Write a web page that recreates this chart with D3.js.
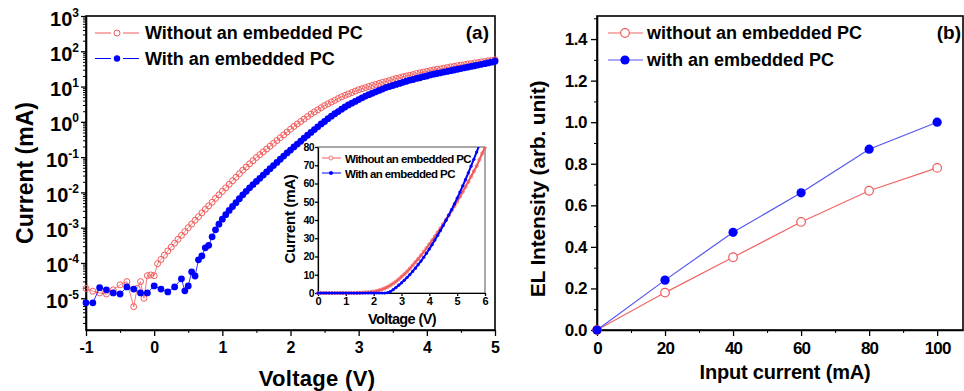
<!DOCTYPE html>
<html>
<head>
<meta charset="utf-8">
<script src="https://cdn.jsdelivr.net/npm/d3@7"></script>
<style>
  body { margin: 0; background: #fff; }
  text { font-family: "Liberation Sans", Arial, sans-serif; font-weight: bold; }
</style>
</head>
<body>
<div class="canvas"></div>
<script>
// ---- panel (a): I-V, log scale (current values stored as log10 of mA) ----
const voltsWithout = [-1.0, -0.9, -0.8, -0.7, -0.6, -0.5, -0.4, -0.3, -0.25, -0.2, -0.15, -0.1, -0.05, 0.0,
  0.05, 0.1, 0.15, 0.2, 0.25, 0.3, 0.35, 0.4, 0.45, 0.5, 0.55, 0.6, 0.65, 0.7, 0.75, 0.8, 0.85, 0.9, 0.95, 1.0,
  1.05, 1.1, 1.15, 1.2, 1.25, 1.3, 1.35, 1.4, 1.45, 1.5,
  1.55, 1.6, 1.65, 1.7, 1.75, 1.8, 1.85, 1.9, 1.95, 2.0,
  2.05, 2.1, 2.15, 2.2, 2.25, 2.3, 2.35, 2.4, 2.45, 2.5,
  2.55, 2.6, 2.65, 2.7, 2.75, 2.8, 2.85, 2.9, 2.95, 3.0,
  3.05, 3.1, 3.15, 3.2, 3.25, 3.3, 3.35, 3.4, 3.45, 3.5,
  3.55, 3.6, 3.65, 3.7, 3.75, 3.8, 3.85, 3.9, 3.95, 4.0,
  4.05, 4.1, 4.15, 4.2, 4.25, 4.3, 4.35, 4.4, 4.45, 4.5,
  4.55, 4.6, 4.65, 4.7, 4.75, 4.8, 4.85, 4.9, 4.95, 5.0];
const logWithout = [-4.72, -4.80, -4.85, -4.88, -4.76, -4.62, -4.53, -5.24, -4.72, -4.53, -5.00, -4.36, -4.34, -4.36,
  -4.02, -3.90, -3.78, -3.66, -3.55, -3.44, -3.33, -3.22, -3.11, -3.00, -2.90, -2.79, -2.69, -2.58, -2.48, -2.38, -2.28, -2.17, -2.07, -1.97,
  -1.87, -1.77, -1.67, -1.57, -1.47, -1.37, -1.28, -1.19, -1.10, -1.01,
  -0.93, -0.85, -0.77, -0.69, -0.61, -0.53, -0.45, -0.37, -0.29, -0.21,
  -0.13, -0.06, 0.01, 0.08, 0.15, 0.22, 0.28, 0.34, 0.40, 0.46,
  0.51, 0.56, 0.61, 0.66, 0.71, 0.75, 0.79, 0.83, 0.87, 0.91,
  0.94, 0.97, 1.00, 1.03, 1.06, 1.09, 1.12, 1.14, 1.17, 1.20,
  1.23, 1.25, 1.28, 1.30, 1.32, 1.34, 1.37, 1.39, 1.41, 1.43,
  1.45, 1.47, 1.49, 1.50, 1.52, 1.54, 1.56, 1.57, 1.59, 1.61,
  1.62, 1.64, 1.65, 1.67, 1.68, 1.70, 1.71, 1.73, 1.74, 1.76];

const voltsWith = [-1.0, -0.9, -0.8, -0.7, -0.6, -0.5, -0.4, -0.3, -0.2, -0.1, 0.0, 0.1, 0.2, 0.3, 0.4,
  0.45, 0.5, 0.55, 0.6, 0.65, 0.7, 0.75, 0.8, 0.85, 0.9, 0.95,
  1.0, 1.05, 1.1, 1.15, 1.2, 1.25, 1.3, 1.35, 1.4, 1.45, 1.5,
  1.55, 1.6, 1.65, 1.7, 1.75, 1.8, 1.85, 1.9, 1.95, 2.0,
  2.05, 2.1, 2.15, 2.2, 2.25, 2.3, 2.35, 2.4, 2.45, 2.5,
  2.55, 2.6, 2.65, 2.7, 2.75, 2.8, 2.85, 2.9, 2.95, 3.0,
  3.05, 3.1, 3.15, 3.2, 3.25, 3.3, 3.35, 3.4, 3.45, 3.5,
  3.55, 3.6, 3.65, 3.7, 3.75, 3.8, 3.85, 3.9, 3.95, 4.0,
  4.05, 4.1, 4.15, 4.2, 4.25, 4.3, 4.35, 4.4, 4.45, 4.5,
  4.55, 4.6, 4.65, 4.7, 4.75, 4.8, 4.85, 4.9, 4.95, 5.0];
const logWith = [-5.13, -5.13, -4.70, -4.76, -4.85, -4.88, -4.68, -4.74, -4.85, -4.85, -4.65, -4.74, -4.82, -4.68, -4.45,
  -4.79, -4.65, -4.25, -4.37, -3.91, -3.80, -3.57, -3.50, -3.26, -3.06, -2.90,
  -2.76, -2.63, -2.51, -2.40, -2.29, -2.18, -2.07, -1.97, -1.87, -1.78, -1.69,
  -1.60, -1.51, -1.42, -1.33, -1.24, -1.15, -1.06, -0.97, -0.88, -0.80,
  -0.71, -0.63, -0.55, -0.46, -0.38, -0.30, -0.22, -0.14, -0.06, 0.01,
  0.09, 0.16, 0.23, 0.29, 0.36, 0.42, 0.48, 0.53, 0.58, 0.63,
  0.68, 0.73, 0.77, 0.81, 0.85, 0.89, 0.93, 0.97, 1.00, 1.03,
  1.06, 1.09, 1.12, 1.15, 1.18, 1.20, 1.23, 1.25, 1.28, 1.30,
  1.33, 1.35, 1.37, 1.39, 1.41, 1.43, 1.45, 1.47, 1.49, 1.51,
  1.53, 1.55, 1.57, 1.59, 1.61, 1.63, 1.65, 1.67, 1.69, 1.72];

const voltTicks = [-1, 0, 1, 2, 3, 4, 5];
const currentTicks = [1e-5, 1e-4, 1e-3, 1e-2, 1e-1, 1, 10, 100, 1000];

// ---- inset: linear I-V ----
const insetVolts = [0.0, 0.1, 0.2, 0.3, 0.4, 0.5, 0.6, 0.7, 0.8, 0.9, 1.0, 1.1, 1.2, 1.3, 1.4,
  1.5, 1.6, 1.7, 1.8, 1.9, 2.0, 2.1, 2.2, 2.3, 2.4, 2.5, 2.6, 2.7, 2.8, 2.9, 3.0, 3.1, 3.2, 3.3, 3.4,
  3.5, 3.6, 3.7, 3.8, 3.9, 4.0, 4.1, 4.2, 4.3, 4.4, 4.5, 4.6, 4.7, 4.8, 4.9, 5.0, 5.1, 5.2, 5.3, 5.4,
  5.5, 5.6, 5.7, 5.8, 5.9, 6.0];
const insetWithout = [0, 0, 0, 0, 0, 0, 0, 0, 0, 0, 0, 0, 0, 0, 0,
  0.1, 0.2, 0.3, 0.4, 0.6, 0.8, 1.1, 1.5, 2.0, 2.6,
  3.3, 4.2, 5.2, 6.3, 7.5, 8.9, 10.3, 11.8, 13.4, 15.1,
  16.9, 18.7, 20.6, 22.6, 24.6, 26.7, 28.8, 31.0, 33.2, 35.5,
  37.8, 40.2, 42.6, 45.1, 47.6, 50.2, 52.8, 55.5, 58.2, 61.0,
  63.8, 66.7, 69.6, 73.0, 76.5, 80.0];
const insetWith = [0, 0, 0, 0, 0, 0, 0, 0, 0, 0, 0, 0, 0, 0, 0, 0, 0, 0, 0, 0, 0, 0, 0, 0, 0,
  0.2, 0.8, 1.8, 3.0, 4.3, 5.6, 7.0, 8.5, 10.1, 11.8,
  13.6, 15.5, 17.5, 19.6, 21.8, 24.1, 26.5, 29.0, 31.6, 34.3,
  37.0, 39.8, 42.7, 45.7, 48.8, 52.0, 55.3, 58.7, 62.2, 65.8,
  69.5, 73.3, 77.2, 81.2];

// ---- panel (b): EL intensity ----
const inputCurrent = [0, 20, 40, 60, 80, 100];
const elWithout = [0, 0.18, 0.35, 0.52, 0.67, 0.78];
const elWith = [0, 0.24, 0.47, 0.66, 0.87, 1.0];

const labels = ['Without an embedded PC', 'With an embedded PC'];
const labelsB = ['without an embedded PC', 'with an embedded PC'];

const red = '#f25a5a';
const blue = '#0000ff';

const svg = d3.select('.canvas')
  .append('svg')
  .attr('width', 964)
  .attr('height', 391);

const styleAxis = (g, size) => {
  g.select('.domain').attr('stroke-width', 1.6);
  g.selectAll('.tick line').attr('stroke-width', 1.3);
  g.selectAll('text').attr('font-size', size).attr('font-weight', 'bold').attr('fill', '#000')
    .attr('font-family', '"Liberation Sans", Arial, sans-serif');
};

// ================= panel (a) =================
const xV = d3.scaleLinear().domain([-1, 5]).range([86, 495]);
const yI = d3.scaleLog().domain([Math.pow(10, -5.9), 1000]).range([330, 16]);

const pa = svg.append('g');

pa.append('rect')
  .attr('x', 86).attr('y', 16).attr('width', 409).attr('height', 314)
  .attr('fill', 'none').attr('stroke', '#000').attr('stroke-width', 1.6);

// minor ticks
pa.append('g')
  .attr('transform', 'translate(0,330)')
  .call(d3.axisBottom(xV).tickValues([-0.5, 0.5, 1.5, 2.5, 3.5, 4.5]).tickSize(3).tickFormat(''))
  .call(g => g.select('.domain').remove());

const minorLog = [];
for (let e = -6; e <= 2; e++) {
  for (let m = 2; m <= 9; m++) {
    const v = m * Math.pow(10, e);
    if (v >= yI.domain()[0]) minorLog.push(v);
  }
}
pa.append('g')
  .attr('transform', 'translate(86,0)')
  .call(d3.axisLeft(yI).tickValues(minorLog).tickSize(3).tickFormat(''))
  .call(g => g.select('.domain').remove());

pa.append('g')
  .attr('transform', 'translate(0,330)')
  .call(d3.axisBottom(xV).tickValues(voltTicks).tickSize(6).tickSizeOuter(0).tickFormat(d => d).tickPadding(6))
  .call(g => styleAxis(g, 16));

const yAxisA = pa.append('g')
  .attr('transform', 'translate(86,0)')
  .call(d3.axisLeft(yI).tickValues(currentTicks).tickSize(5).tickSizeOuter(0).tickFormat(''));
styleAxis(yAxisA, 20);
yAxisA.selectAll('.tick text').each(function (d) {
  const t = d3.select(this)
    .attr('font-family', '"Liberation Serif", "Times New Roman", serif')
    .attr('font-weight', 'normal')
    .attr('x', -7)
    .attr('dy', '0.45em');
  t.append('tspan').text('10');
  t.append('tspan').attr('dy', -9).attr('font-size', 12).text(Math.round(Math.log10(d)));
});

const lineA = d3.line().x(d => xV(d[0])).y(d => yI(Math.pow(10, d[1])));
const seriesA = [
  { pts: d3.zip(voltsWithout, logWithout), color: red, open: true },
  { pts: d3.zip(voltsWith, logWith), color: blue, open: false }
];
seriesA.forEach(s => {
  pa.append('path').datum(s.pts).attr('d', lineA)
    .attr('fill', 'none').attr('stroke', s.color).attr('stroke-width', 0.8);
  pa.append('g').selectAll('circle')
    .data(s.pts)
    .enter()
    .append('circle')
    .attr('cx', d => xV(d[0]))
    .attr('cy', d => yI(Math.pow(10, d[1])))
    .attr('r', s.open ? 3 : 3.4)
    .attr('fill', s.open ? 'none' : s.color)
    .attr('stroke', s.color)
    .attr('stroke-width', s.open ? 1 : 0);
});

pa.append('text')
  .attr('transform', 'translate(33,173) rotate(-90)')
  .attr('text-anchor', 'middle')
  .attr('font-size', 23)
  .text('Current (mA)');
pa.append('text')
  .attr('x', 317).attr('y', 386)
  .attr('text-anchor', 'middle')
  .attr('font-size', 22)
  .attr('letter-spacing', 0.3)
  .text('Voltage (V)');
pa.append('text')
  .attr('x', 489).attr('y', 39)
  .attr('text-anchor', 'end')
  .attr('font-size', 19)
  .attr('font-family', '"Liberation Serif", "Times New Roman", serif')
  .text('(a)');

// legend (a)
labels.forEach((lab, i) => {
  const cy = 33 + i * 25.5;
  const c = i === 0 ? red : blue;
  const lg = pa.append('g');
  lg.append('line').attr('x1', 95).attr('x2', 111).attr('y1', cy).attr('y2', cy).attr('stroke', c).attr('stroke-width', 1);
  lg.append('line').attr('x1', 123).attr('x2', 139).attr('y1', cy).attr('y2', cy).attr('stroke', c).attr('stroke-width', 1);
  lg.append('circle').attr('cx', 117).attr('cy', cy).attr('r', i === 0 ? 3 : 3.2)
    .attr('fill', i === 0 ? 'none' : c).attr('stroke', c).attr('stroke-width', i === 0 ? 1 : 0);
  lg.append('text').attr('x', 145).attr('y', cy + 6).attr('font-size', 18)
    .attr('letter-spacing', 0).text(lab);
});

// ================= inset =================
const xIn = d3.scaleLinear().domain([0, 6]).range([318, 485]);
const yIn = d3.scaleLinear().domain([0, 80]).range([293, 147]);

const inset = svg.append('g');
inset.append('rect')
  .attr('x', 318).attr('y', 147).attr('width', 167).attr('height', 146)
  .attr('fill', '#fff').attr('stroke', '#555').attr('stroke-width', 1);

inset.append('clipPath').attr('id', 'inclip')
  .append('rect').attr('x', 316).attr('y', 147).attr('width', 172).attr('height', 148);

inset.append('g')
  .attr('transform', 'translate(0,293)')
  .call(d3.axisBottom(xIn).ticks(6).tickSize(3).tickSizeOuter(0).tickPadding(1))
  .call(g => styleAxis(g, 11))
  .call(g => g.select('.domain').attr('stroke-width', 1.2));
inset.append('g')
  .attr('transform', 'translate(318,0)')
  .call(d3.axisLeft(yIn).tickValues(d3.range(0, 81, 10)).tickSize(3).tickSizeOuter(0).tickPadding(1))
  .call(g => styleAxis(g, 10.5))
  .call(g => g.select('.domain').attr('stroke-width', 1.2))
  .call(g => g.selectAll('text').attr('letter-spacing', -0.6));

const plotIn = inset.append('g').attr('clip-path', 'url(#inclip)');
const lineIn = d3.line().x(d => xIn(d[0])).y(d => yIn(d[1]));
const seriesIn = [
  { pts: d3.zip(insetVolts, insetWithout), color: red, open: true },
  { pts: d3.zip(insetVolts, insetWith), color: blue, open: false }
];
seriesIn.forEach(s => {
  plotIn.append('path').datum(s.pts).attr('d', lineIn)
    .attr('fill', 'none').attr('stroke', s.color).attr('stroke-width', 2);
  plotIn.append('g').selectAll('circle')
    .data(s.pts)
    .enter()
    .append('circle')
    .attr('cx', d => xIn(d[0]))
    .attr('cy', d => yIn(d[1]))
    .attr('r', 1.6)
    .attr('fill', s.open ? 'none' : s.color)
    .attr('stroke', s.color)
    .attr('stroke-width', s.open ? 0.8 : 0);
});

inset.append('text')
  .attr('transform', 'translate(295,219) rotate(-90)')
  .attr('text-anchor', 'middle')
  .attr('font-size', 15)
  .attr('letter-spacing', -0.3)
  .text('Current (mA)');
inset.append('text')
  .attr('x', 402).attr('y', 324)
  .attr('text-anchor', 'middle')
  .attr('font-size', 14.5)
  .attr('letter-spacing', -0.6)
  .text('Voltage (V)');

labels.forEach((lab, i) => {
  const cy = 158 + i * 15;
  const c = i === 0 ? red : blue;
  const lg = inset.append('g');
  lg.append('line').attr('x1', 322).attr('x2', 341).attr('y1', cy).attr('y2', cy).attr('stroke', c).attr('stroke-width', 1);
  lg.append('circle').attr('cx', 331).attr('cy', cy).attr('r', 2)
    .attr('fill', i === 0 ? '#fff' : c).attr('stroke', c).attr('stroke-width', i === 0 ? 0.8 : 0);
  lg.append('text').attr('x', 345).attr('y', cy + 4.5).attr('font-size', 11.5)
    .attr('letter-spacing', -0.6).text(lab);
});

// ================= panel (b) =================
const xC = d3.scaleLinear().domain([0, 107.6]).range([597, 963]);
const yEL = d3.scaleLinear().domain([0, 1.511]).range([330, 16]);

const pb = svg.append('g');

pb.append('rect')
  .attr('x', 597).attr('y', 16).attr('width', 366).attr('height', 314)
  .attr('fill', 'none').attr('stroke', '#000').attr('stroke-width', 1.6);

pb.append('g')
  .attr('transform', 'translate(0,330)')
  .call(d3.axisBottom(xC).tickValues([10, 30, 50, 70, 90]).tickSize(3).tickFormat(''))
  .call(g => g.select('.domain').remove());
pb.append('g')
  .attr('transform', 'translate(597,0)')
  .call(d3.axisLeft(yEL).tickValues([0.1, 0.3, 0.5, 0.7, 0.9, 1.1, 1.3, 1.5]).tickSize(3).tickFormat(''))
  .call(g => g.select('.domain').remove());

pb.append('g')
  .attr('transform', 'translate(0,330)')
  .call(d3.axisBottom(xC).tickValues(inputCurrent).tickSize(6).tickSizeOuter(0).tickPadding(6))
  .call(g => styleAxis(g, 17))
  .call(g => g.selectAll('text').attr('letter-spacing', -0.8));
pb.append('g')
  .attr('transform', 'translate(597,0)')
  .call(d3.axisLeft(yEL).tickValues([0, 0.2, 0.4, 0.6, 0.8, 1.0, 1.2, 1.4]).tickFormat(d3.format('.1f')).tickSize(6).tickSizeOuter(0).tickPadding(4))
  .call(g => styleAxis(g, 17))
  .call(g => g.selectAll('text').attr('letter-spacing', -0.5));

const lineB = d3.line().x(d => xC(d[0])).y(d => yEL(d[1]));
const seriesB = [
  { pts: d3.zip(inputCurrent, elWithout), color: red, lineColor: '#f06666', open: true },
  { pts: d3.zip(inputCurrent, elWith), color: blue, lineColor: '#5555ee', open: false }
];
seriesB.forEach(s => {
  pb.append('path').datum(s.pts).attr('d', lineB)
    .attr('fill', 'none').attr('stroke', s.lineColor).attr('stroke-width', 1.2);
  pb.append('g').selectAll('circle')
    .data(s.pts)
    .enter()
    .append('circle')
    .attr('cx', d => xC(d[0]))
    .attr('cy', d => yEL(d[1]))
    .attr('r', s.open ? 4.3 : 4.6)
    .attr('fill', s.open ? '#fff' : s.color)
    .attr('stroke', s.color)
    .attr('stroke-width', s.open ? 1.2 : 0);
});

pb.append('text')
  .attr('transform', 'translate(545,189) rotate(-90)')
  .attr('text-anchor', 'middle')
  .attr('font-size', 21)
  .attr('letter-spacing', -0.2)
  .text('EL Intensity (arb. unit)');
pb.append('text')
  .attr('x', 785).attr('y', 379)
  .attr('text-anchor', 'middle')
  .attr('font-size', 20)
  .attr('letter-spacing', -0.2)
  .text('Input current (mA)');
pb.append('text')
  .attr('x', 961).attr('y', 39)
  .attr('text-anchor', 'end')
  .attr('font-size', 19)
  .attr('font-family', '"Liberation Serif", "Times New Roman", serif')
  .text('(b)');

labelsB.forEach((lab, i) => {
  const cy = 33 + i * 27;
  const c = i === 0 ? red : blue;
  const lg = pb.append('g');
  lg.append('line').attr('x1', 608).attr('x2', 643).attr('y1', cy).attr('y2', cy)
    .attr('stroke', i === 0 ? '#f06666' : '#5555ee').attr('stroke-width', 1.2);
  lg.append('circle').attr('cx', 625).attr('cy', cy).attr('r', i === 0 ? 4.3 : 4.6)
    .attr('fill', i === 0 ? '#fff' : c).attr('stroke', c).attr('stroke-width', i === 0 ? 1.2 : 0);
  lg.append('text').attr('x', 647).attr('y', cy + 6).attr('font-size', 18)
    .attr('letter-spacing', 0).text(lab);
});
</script>
</body>
</html>
